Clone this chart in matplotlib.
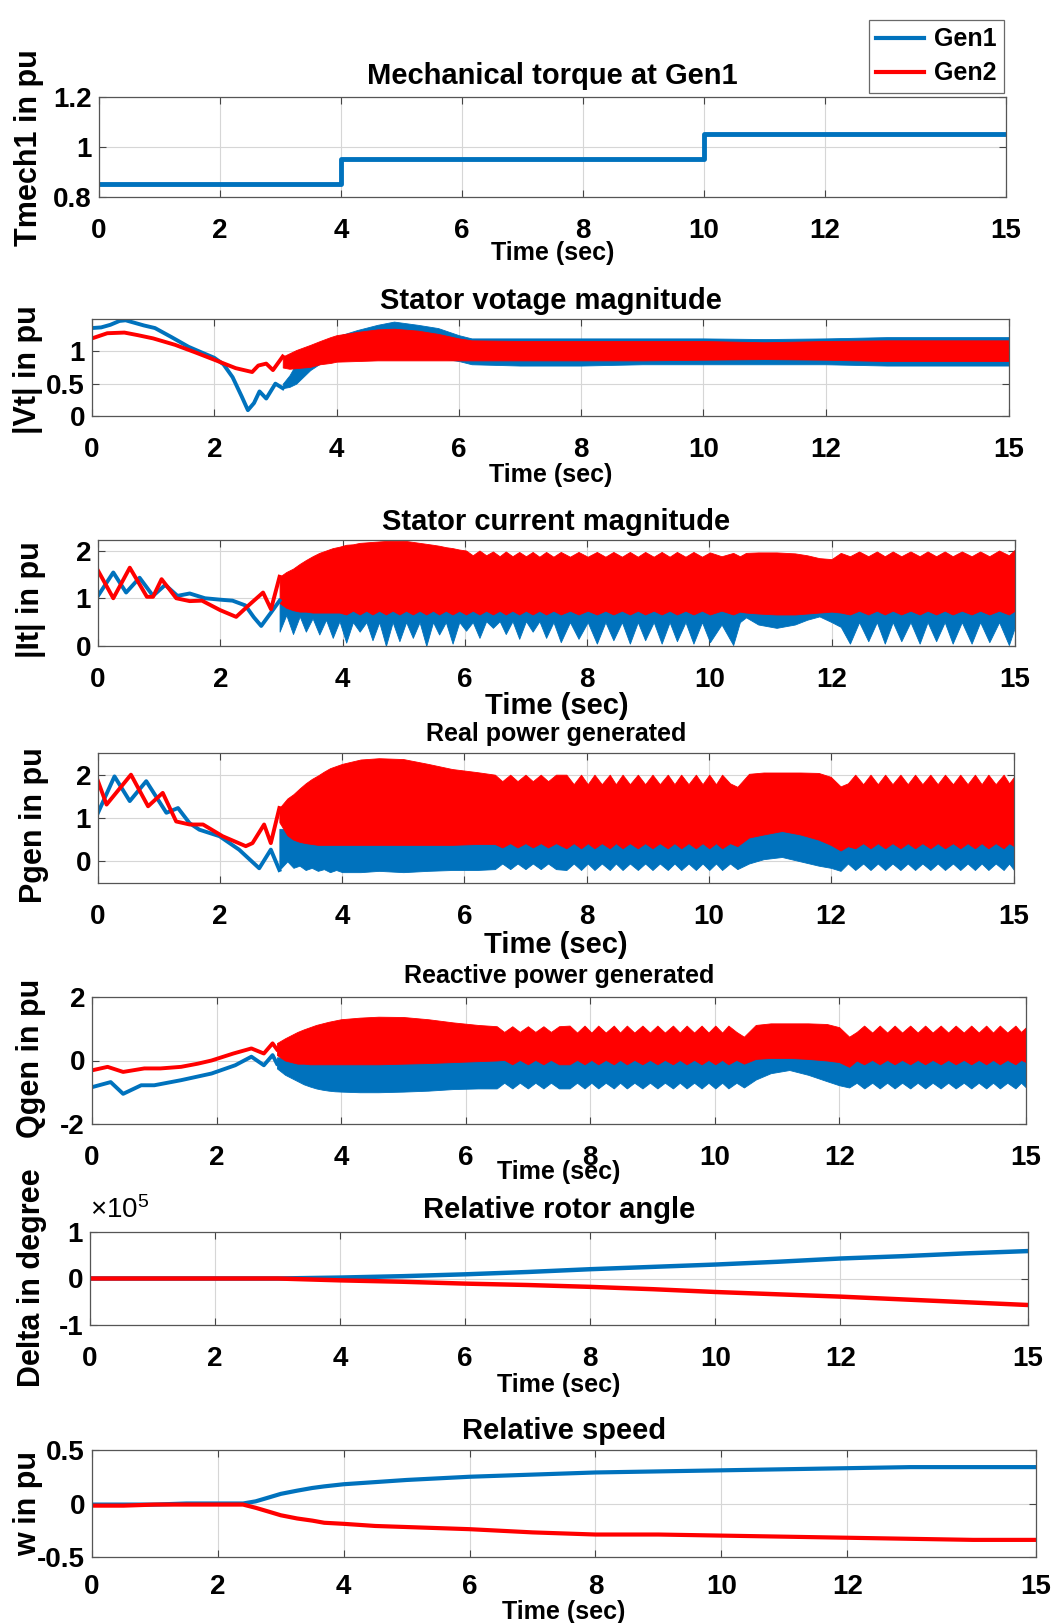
import numpy as np
import matplotlib
matplotlib.use('Agg')
import matplotlib.pyplot as plt
from matplotlib.ticker import FuncFormatter

plt.rcParams['font.family'] = ['Liberation Sans', 'DejaVu Sans']
plt.rcParams['font.weight'] = 'bold'
plt.rcParams['axes.unicode_minus'] = False
plt.rcParams['mathtext.fontset'] = 'custom'
plt.rcParams['mathtext.rm'] = 'Liberation Sans'
plt.rcParams['mathtext.default'] = 'regular'
plt.rcParams['lines.solid_joinstyle'] = 'round'

# ---------------- data ----------------
x_ticks = [0, 2, 4, 6, 8, 10, 12, 15]

# Panel 1: mechanical torque (step)
tm_t = [0, 4, 10, 15]
tm_g1 = [0.85, 0.95, 1.05, 1.05]

# Panel 2: |Vt|
vt_t_g1 = [0, 0.15, 0.3, 0.45, 0.55, 0.7, 0.85, 1.03, 1.3, 1.58, 1.8, 2.0, 2.15, 2.3, 2.45, 2.55,
           2.65, 2.74, 2.85, 3.0, 3.12]
vt_g1 = [1.36, 1.37, 1.41, 1.47, 1.48, 1.44, 1.40, 1.36, 1.22, 1.07, 0.98, 0.9, 0.8, 0.6, 0.3, 0.09,
         0.2, 0.38, 0.27, 0.5, 0.43]
vt_t_g2 = [0, 0.25, 0.53, 0.75, 1.0, 1.36, 1.7, 2.0, 2.35, 2.62, 2.72, 2.85, 2.96, 3.12]
vt_g2 = [1.2, 1.28, 1.29, 1.25, 1.2, 1.1, 0.98, 0.87, 0.74, 0.68, 0.78, 0.81, 0.71, 0.92]
vt_t_band = [3.12, 3.23, 3.34, 3.57, 3.73, 3.9, 4.0, 4.34, 4.67, 4.94, 5.33, 5.66,
             6.0, 6.21, 7, 8, 9, 10, 11, 12, 13, 14, 15]
vt_g1_up = [0.5, 0.63, 0.81, 0.97, 1.07, 1.17, 1.23, 1.33, 1.41, 1.46, 1.41, 1.36,
            1.25, 1.2, 1.2, 1.2, 1.2, 1.2, 1.19, 1.2, 1.22, 1.22, 1.22]
vt_g1_lo = [0.43, 0.45, 0.5, 0.71, 0.81, 0.89, 0.92, 0.95, 0.97, 0.97, 0.93, 0.9,
            0.85, 0.8, 0.78, 0.78, 0.8, 0.8, 0.8, 0.8, 0.78, 0.78, 0.78]
vt_g2_up = [0.92, 0.97, 1.02, 1.1, 1.16, 1.22, 1.25, 1.3, 1.34, 1.35, 1.32, 1.27,
            1.2, 1.17, 1.16, 1.16, 1.16, 1.16, 1.14, 1.16, 1.17, 1.17, 1.17]
vt_g2_lo = [0.75, 0.73, 0.74, 0.76, 0.8, 0.82, 0.84, 0.85, 0.86, 0.86, 0.86, 0.86,
            0.86, 0.86, 0.86, 0.86, 0.86, 0.87, 0.88, 0.87, 0.85, 0.85, 0.85]

# Panel 3: |It|
it_t_g1 = [0, 0.25, 0.46, 0.68, 0.9, 1.1, 1.3, 1.5, 1.75, 2.0, 2.2, 2.41, 2.55, 2.67, 2.83, 2.97]
it_g1 = [1.05, 1.54, 1.12, 1.43, 1.05, 1.28, 1.05, 1.1, 1.0, 0.97, 0.95, 0.85, 0.6, 0.42, 0.7, 0.95]
it_t_g2 = [0, 0.25, 0.52, 0.8, 0.9, 1.04, 1.28, 1.5, 1.7, 2.0, 2.26, 2.48, 2.7, 2.83, 2.97]
it_g2 = [1.58, 1.0, 1.64, 1.03, 1.03, 1.4, 1.0, 0.94, 0.95, 0.75, 0.61, 0.87, 1.12, 0.77, 1.45]
it_t_band = [2.97, 3.08, 3.19, 3.30, 3.40, 3.51, 3.62, 3.73, 3.84, 3.95,
             4.06, 4.17, 4.28, 4.39, 4.49, 4.60, 4.71, 4.82, 4.93, 5.04,
             5.15, 5.26, 5.37, 5.48, 5.58, 5.69, 5.80, 5.91, 6.02, 6.13,
             6.24, 6.35, 6.46, 6.57, 6.67, 6.78, 6.89, 7.00, 7.11, 7.22,
             7.33, 7.45, 7.57, 7.72, 7.86, 8.01, 8.16, 8.30, 8.43, 8.57,
             8.70, 8.83, 8.95, 9.09, 9.22, 9.35, 9.47, 9.61, 9.74, 9.88,
             10.01, 10.20, 10.39, 10.50, 10.60, 10.80, 11.10, 11.40, 11.60, 11.80,
             12.00, 12.15, 12.30, 12.45, 12.60, 12.74, 12.87, 13.00, 13.14, 13.29,
             13.44, 13.57, 13.71, 13.85, 13.98, 14.13, 14.29, 14.43, 14.58, 14.74,
             14.90, 15.00]
it_g1_lo = [0.30, 0.65, 0.25, 0.62, 0.30, 0.58, 0.24, 0.55, 0.17, 0.52,
            0.07, 0.50, 0.30, 0.50, 0.12, 0.50, 0.00, 0.50, 0.10, 0.50,
            0.17, 0.50, 0.00, 0.50, 0.24, 0.50, 0.05, 0.50, 0.32, 0.50,
            0.17, 0.52, 0.38, 0.52, 0.25, 0.52, 0.15, 0.52, 0.30, 0.52,
            0.17, 0.50, 0.08, 0.50, 0.15, 0.50, 0.05, 0.50, 0.12, 0.50,
            0.05, 0.50, 0.12, 0.50, 0.05, 0.50, 0.10, 0.50, 0.05, 0.50,
            0.08, 0.45, 0.02, 0.50, 0.60, 0.45, 0.38, 0.45, 0.55, 0.62,
            0.50, 0.40, 0.05, 0.50, 0.10, 0.50, 0.05, 0.50, 0.10, 0.50,
            0.05, 0.50, 0.10, 0.50, 0.05, 0.50, 0.05, 0.50, 0.08, 0.50,
            0.02, 0.40]
it_g1_top = 1.0
it_g2_up = [1.45, 1.55, 1.62, 1.72, 1.80, 1.88, 1.95, 2.00, 2.05, 2.08,
            2.12, 2.13, 2.16, 2.17, 2.18, 2.19, 2.20, 2.20, 2.20, 2.20,
            2.18, 2.16, 2.14, 2.12, 2.10, 2.07, 2.05, 2.02, 2.00, 1.90,
            2.00, 1.90, 1.98, 1.88, 1.98, 1.88, 1.97, 1.88, 1.97, 1.87,
            1.97, 1.87, 1.97, 1.87, 1.97, 1.87, 1.97, 1.87, 1.97, 1.87,
            1.97, 1.87, 1.97, 1.87, 1.97, 1.87, 1.97, 1.87, 1.97, 1.87,
            1.96, 1.88, 1.95, 1.88, 1.95, 1.96, 1.96, 1.94, 1.90, 1.84,
            1.82, 1.95, 1.88, 1.98, 1.88, 1.98, 1.88, 1.98, 1.88, 1.98,
            1.88, 1.98, 1.88, 1.98, 1.88, 1.98, 1.88, 1.98, 1.88, 2.00,
            1.90, 2.02]
it_g2_lo = [0.90, 0.80, 0.75, 0.72, 0.72, 0.70, 0.70, 0.70, 0.70, 0.70,
            0.66, 0.74, 0.66, 0.74, 0.66, 0.74, 0.66, 0.74, 0.66, 0.74,
            0.66, 0.74, 0.66, 0.74, 0.66, 0.74, 0.66, 0.74, 0.66, 0.74,
            0.66, 0.74, 0.66, 0.74, 0.66, 0.74, 0.66, 0.74, 0.66, 0.74,
            0.66, 0.74, 0.66, 0.74, 0.66, 0.74, 0.66, 0.74, 0.66, 0.74,
            0.66, 0.74, 0.66, 0.74, 0.66, 0.74, 0.66, 0.74, 0.66, 0.74,
            0.66, 0.74, 0.66, 0.72, 0.70, 0.68, 0.66, 0.66, 0.68, 0.70,
            0.72, 0.70, 0.66, 0.74, 0.66, 0.74, 0.66, 0.74, 0.66, 0.74,
            0.66, 0.74, 0.66, 0.74, 0.66, 0.74, 0.66, 0.74, 0.66, 0.74,
            0.66, 0.74]

# Panel 4: Pgen
pg_t_g1 = [0, 0.27, 0.52, 0.79, 1.12, 1.31, 1.5, 1.66, 1.99, 2.31, 2.64, 2.83, 2.97]
pg_g1 = [1.12, 1.96, 1.39, 1.85, 1.12, 1.23, 0.88, 0.73, 0.58, 0.27, -0.16, 0.27, -0.2]
pg_t_g2 = [0, 0.14, 0.54, 0.82, 1.06, 1.28, 1.5, 1.72, 2.04, 2.42, 2.53, 2.72, 2.83, 2.97]
pg_g2 = [1.85, 1.31, 2.0, 1.27, 1.58, 0.92, 0.85, 0.85, 0.58, 0.35, 0.42, 0.85, 0.42, 1.23]
pq_t_band = [2.97, 3.1, 3.2, 3.3, 3.4, 3.5, 3.6, 3.7, 3.8, 3.9,
             4.0, 4.3, 4.6, 5.0, 5.4, 5.8, 6.2, 6.5, 6.62, 6.75,
             6.87, 7.0, 7.12, 7.25, 7.37, 7.5, 7.67, 7.79, 7.91, 8.02,
             8.13, 8.25, 8.38, 8.48, 8.59, 8.71, 8.84, 8.96, 9.08, 9.2,
             9.33, 9.44, 9.55, 9.67, 9.79, 9.9, 10.01, 10.12, 10.22, 10.35,
             10.47, 10.66, 10.9, 11.2, 11.5, 11.8, 12.0, 12.16, 12.28, 12.4,
             12.53, 12.65, 12.77, 12.89, 13.01, 13.14, 13.26, 13.38, 13.5, 13.63,
             13.75, 13.87, 14.0, 14.12, 14.24, 14.36, 14.47, 14.58, 14.7, 14.83,
             14.92, 15.0]
pg_g1_lo = [-0.20, 0.00, -0.15, -0.10, -0.20, -0.15, -0.22, -0.18, -0.25, -0.20,
            -0.25, -0.25, -0.22, -0.25, -0.22, -0.20, -0.20, -0.18, -0.05, -0.18,
            -0.05, -0.18, -0.05, -0.18, -0.05, -0.18, -0.20, -0.05, -0.20, -0.05,
            -0.20, -0.05, -0.20, -0.05, -0.20, -0.05, -0.20, -0.05, -0.20, -0.05,
            -0.20, -0.05, -0.20, -0.05, -0.20, -0.05, -0.20, -0.05, -0.20, -0.05,
            -0.18, -0.05, 0.05, 0.10, 0.00, -0.10, -0.15, -0.22, -0.05, -0.20,
            -0.05, -0.20, -0.05, -0.20, -0.05, -0.20, -0.05, -0.20, -0.05, -0.20,
            -0.05, -0.20, -0.05, -0.20, -0.05, -0.20, -0.05, -0.20, -0.05, -0.20,
            -0.05, -0.20]
pg_g1_top = 0.75
pg_g2_up = [1.23, 1.45, 1.55, 1.68, 1.80, 1.90, 1.98, 2.07, 2.15, 2.20,
            2.25, 2.35, 2.38, 2.36, 2.25, 2.13, 2.06, 2.00, 1.85, 2.00,
            1.85, 2.00, 1.85, 2.00, 1.85, 2.00, 2.00, 1.78, 2.00, 1.78,
            2.00, 1.78, 2.00, 1.78, 2.00, 1.78, 2.00, 1.78, 2.00, 1.78,
            2.00, 1.78, 2.00, 1.78, 2.00, 1.78, 2.00, 1.78, 2.00, 1.80,
            1.72, 2.02, 2.05, 2.05, 2.05, 2.04, 1.95, 1.73, 1.80, 2.00,
            1.78, 2.00, 1.78, 2.00, 1.78, 2.00, 1.78, 2.00, 1.78, 2.00,
            1.78, 2.00, 1.78, 2.00, 1.78, 2.00, 1.78, 2.00, 1.78, 2.00,
            1.80, 1.95]
pg_g2_lo = [0.90, 0.60, 0.50, 0.45, 0.42, 0.40, 0.38, 0.38, 0.38, 0.38,
            0.38, 0.38, 0.38, 0.38, 0.38, 0.38, 0.40, 0.40, 0.32, 0.42,
            0.32, 0.42, 0.32, 0.42, 0.32, 0.42, 0.30, 0.42, 0.30, 0.42,
            0.30, 0.42, 0.30, 0.42, 0.30, 0.42, 0.30, 0.42, 0.30, 0.42,
            0.30, 0.42, 0.30, 0.42, 0.30, 0.42, 0.30, 0.42, 0.30, 0.42,
            0.35, 0.55, 0.62, 0.70, 0.62, 0.50, 0.38, 0.25, 0.35, 0.30,
            0.42, 0.30, 0.42, 0.30, 0.42, 0.30, 0.42, 0.30, 0.42, 0.30,
            0.42, 0.30, 0.42, 0.30, 0.42, 0.30, 0.42, 0.30, 0.42, 0.30,
            0.42, 0.35]

# Panel 5: Qgen
qg_t_g1 = [0, 0.3, 0.5, 0.79, 1.0, 1.43, 1.92, 2.3, 2.56, 2.76, 2.9, 2.97]
qg_g1 = [-0.84, -0.68, -1.05, -0.78, -0.78, -0.62, -0.41, -0.15, 0.12, -0.15, 0.17, -0.1]
qg_t_g2 = [0, 0.25, 0.5, 0.84, 1.1, 1.43, 1.7, 1.92, 2.27, 2.56, 2.76, 2.9, 2.97]
qg_g2 = [-0.31, -0.2, -0.36, -0.25, -0.25, -0.2, -0.1, 0.0, 0.22, 0.38, 0.22, 0.54, 0.35]
qg_g1_lo = [-0.25, -0.45, -0.55, -0.65, -0.75, -0.82, -0.88, -0.92, -0.95, -0.97,
            -0.98, -1.00, -1.00, -0.98, -0.95, -0.90, -0.88, -0.88, -0.70, -0.88,
            -0.70, -0.88, -0.70, -0.88, -0.70, -0.88, -0.88, -0.70, -0.88, -0.70,
            -0.88, -0.70, -0.88, -0.70, -0.88, -0.70, -0.88, -0.70, -0.88, -0.70,
            -0.88, -0.70, -0.88, -0.70, -0.88, -0.70, -0.88, -0.70, -0.88, -0.70,
            -0.85, -0.60, -0.40, -0.30, -0.45, -0.65, -0.78, -0.85, -0.70, -0.88,
            -0.70, -0.88, -0.70, -0.88, -0.70, -0.88, -0.70, -0.88, -0.70, -0.88,
            -0.70, -0.88, -0.70, -0.88, -0.70, -0.88, -0.70, -0.88, -0.70, -0.88,
            -0.70, -0.85]
qg_g1_top = 0.1
qg_g2_up = [0.55, 0.70, 0.80, 0.90, 0.98, 1.05, 1.12, 1.17, 1.22, 1.26,
            1.30, 1.35, 1.38, 1.37, 1.30, 1.20, 1.12, 1.08, 0.90, 1.08,
            0.90, 1.08, 0.90, 1.08, 0.90, 1.08, 1.10, 0.88, 1.10, 0.88,
            1.10, 0.88, 1.10, 0.88, 1.10, 0.88, 1.10, 0.88, 1.10, 0.88,
            1.10, 0.88, 1.10, 0.88, 1.10, 0.88, 1.10, 0.88, 1.10, 0.90,
            0.75, 1.12, 1.17, 1.17, 1.17, 1.15, 1.05, 0.75, 0.90, 1.10,
            0.88, 1.10, 0.88, 1.10, 0.88, 1.10, 0.88, 1.10, 0.88, 1.10,
            0.88, 1.10, 0.88, 1.10, 0.88, 1.10, 0.88, 1.10, 0.88, 1.10,
            0.90, 1.05]
qg_g2_lo = [0.17, 0.00, -0.05, -0.10, -0.10, -0.12, -0.12, -0.12, -0.12, -0.12,
            -0.12, -0.12, -0.12, -0.10, -0.08, -0.05, -0.02, 0.00, 0.02, -0.12,
            0.02, -0.12, 0.02, -0.12, 0.02, -0.12, -0.12, 0.02, -0.12, 0.02,
            -0.12, 0.02, -0.12, 0.02, -0.12, 0.02, -0.12, 0.02, -0.12, 0.02,
            -0.12, 0.02, -0.12, 0.02, -0.12, 0.02, -0.12, 0.02, -0.12, 0.02,
            -0.10, 0.05, 0.08, 0.08, 0.05, 0.00, -0.05, -0.20, 0.00, -0.12,
            0.02, -0.12, 0.02, -0.12, 0.02, -0.12, 0.02, -0.12, 0.02, -0.12,
            0.02, -0.12, 0.02, -0.12, 0.02, -0.12, 0.02, -0.12, 0.02, -0.12,
            0.02, -0.05]

# Panel 6: relative rotor angle (degrees)
da_t = [0, 3, 4, 5, 6, 7, 8, 9, 10, 11, 12, 13, 14, 15]
da_g1 = [0, 0, 2000, 5000, 9000, 14000, 20000, 25000, 30000, 36000, 43000, 48000, 54000, 59000]
da_g2 = [0, 0, -4000, -7000, -11000, -14000, -18000, -23000, -29000, -34000, -39000, -45000, -51000, -57000]

# Panel 7: relative speed
ws_t = [0, 0.5, 1, 1.5, 2.0, 2.4, 2.6, 2.83, 3.0, 3.26, 3.5, 3.69, 4.0, 4.5, 5, 6, 7, 8, 9, 10, 11, 12, 13, 14, 15]
ws_g1 = [-0.01, -0.01, -0.01, 0.0, 0.0, 0.0, 0.02, 0.06, 0.09, 0.12, 0.145, 0.16, 0.18, 0.2, 0.22,
         0.25, 0.27, 0.29, 0.3, 0.31, 0.32, 0.33, 0.34, 0.34, 0.34]
ws_g2 = [-0.02, -0.02, -0.01, -0.01, -0.01, -0.01, -0.04, -0.08, -0.11, -0.14, -0.16, -0.18, -0.19,
         -0.21, -0.22, -0.24, -0.27, -0.29, -0.29, -0.3, -0.31, -0.32, -0.33, -0.34, -0.34]

series_names = ['Gen1', 'Gen2']

# ---------------- figure ----------------
W, H = 1060, 1623
BLUE = '#0072BD'
RED = '#FF0000'
LW = 2.8
fig = plt.figure(figsize=(W / 100, H / 100), dpi=100)

gfmt = FuncFormatter(lambda v, p: '%g' % v)


def panel(box, title, title_y, title_fs, xlab_y, xlab_fs, ylabel, ylab_xy, ylim, yticks, xpad=15):
    l, t, r, b = box
    h = b - t
    ax = fig.add_axes([l / W, 1 - b / H, (r - l) / W, h / H])
    ax.set_xlim(0, 15)
    ax.set_ylim(*ylim)
    ax.set_xticks(x_ticks)
    ax.set_yticks(yticks)
    ax.xaxis.set_major_formatter(gfmt)
    ax.yaxis.set_major_formatter(gfmt)
    ax.tick_params(direction='in', top=True, right=True, length=5, width=0.8,
                   labelsize=20, color='#444444')
    ax.tick_params(axis='x', pad=xpad)
    ax.tick_params(axis='y', pad=5)
    for lab in ax.get_xticklabels() + ax.get_yticklabels():
        lab.set_fontweight('bold')
    for s in ax.spines.values():
        s.set_color('#555555')
        s.set_linewidth(0.9)
    ax.grid(True, color='#d6d6d6', lw=0.8)
    ax.set_axisbelow(True)
    ax.set_title(title, fontsize=title_fs, fontweight='bold', y=1 + (t - title_y) / h,
                 va='center', pad=0)
    ax.set_xlabel('Time (sec)', fontsize=xlab_fs, fontweight='bold', va='center')
    ax.xaxis.set_label_coords(0.5, -(xlab_y - b) / h)
    ax.set_ylabel(ylabel, fontsize=22, fontweight='bold', va='center', ha='center')
    ax.yaxis.set_label_coords(ylab_xy[0] / W, 1 - ylab_xy[1] / H, transform=fig.transFigure)
    return ax


# Panel 1
ax1 = panel((99, 97, 1006, 197), 'Mechanical torque at Gen1', 76, 21, 253, 18,
            'Tmech1 in pu', (29, 148), (0.8, 1.2), [0.8, 1, 1.2])
ax1.plot(tm_t, tm_g1, drawstyle='steps-post', color=BLUE, lw=3.5)

# Panel 2
ax2 = panel((92, 319, 1009, 416), 'Stator votage magnitude', 301, 21, 475, 18,
            '|Vt| in pu', (28, 370), (0, 1.5), [0, 0.5, 1])
ax2.fill_between(vt_t_band, vt_g1_lo, vt_g1_up, color=BLUE, lw=0.6)
ax2.plot(vt_t_g1, vt_g1, color=BLUE, lw=LW)
ax2.fill_between(vt_t_band, vt_g2_lo, vt_g2_up, color=RED, lw=0.6)
ax2.plot(vt_t_g2, vt_g2, color=RED, lw=LW)

# Panel 3
ax3 = panel((98, 540, 1015, 646), 'Stator current magnitude', 522, 21, 706, 21,
            '|It| in pu', (31, 600), (0, 2.22), [0, 1, 2])
ax3.fill_between(it_t_band, it_g1_lo, it_g1_top, color=BLUE, lw=0.6)
ax3.plot(it_t_g1, it_g1, color=BLUE, lw=LW)
ax3.fill_between(it_t_band, it_g2_lo, it_g2_up, color=RED, lw=0.6)
ax3.plot(it_t_g2, it_g2, color=RED, lw=LW)

# Panel 4
ax4 = panel((98, 753, 1014, 883), 'Real power generated', 734, 18, 945, 21,
            'Pgen in pu', (34, 825), (-0.5, 2.5), [0, 1, 2])
ax4.fill_between(pq_t_band, pg_g1_lo, pg_g1_top, color=BLUE, lw=0.6)
ax4.plot(pg_t_g1, pg_g1, color=BLUE, lw=LW)
ax4.fill_between(pq_t_band, pg_g2_lo, pg_g2_up, color=RED, lw=0.6)
ax4.plot(pg_t_g2, pg_g2, color=RED, lw=LW)

# Panel 5
ax5 = panel((92, 997, 1026, 1124), 'Reactive power generated', 976, 18, 1172, 18,
            'Qgen in pu', (31, 1058), (-2, 2), [-2, 0, 2])
ax5.fill_between(pq_t_band, qg_g1_lo, qg_g1_top, color=BLUE, lw=0.6)
ax5.plot(qg_t_g1, qg_g1, color=BLUE, lw=LW)
ax5.fill_between(pq_t_band, qg_g2_lo, qg_g2_up, color=RED, lw=0.6)
ax5.plot(qg_t_g2, qg_g2, color=RED, lw=LW)

# Panel 6
ax6 = panel((90, 1232, 1028, 1325), 'Relative rotor angle', 1210, 21, 1385, 18,
            'Delta in degree', (32, 1278), (-1e5, 1e5), [-1e5, 0, 1e5])
ax6.yaxis.set_major_formatter(FuncFormatter(lambda v, p: '%g' % (v / 1e5)))
ax6.plot(da_t, da_g1, color=BLUE, lw=3.2)
ax6.plot(da_t, da_g2, color=RED, lw=3.2)
ax6.text(0.0, 1 + (1232 - 1210) / 93, r'$\times10^{5}$', transform=ax6.transAxes,
         ha='left', va='center', fontsize=20, fontweight='normal')

# Panel 7
ax7 = panel((92, 1450, 1036, 1557), 'Relative speed', 1431, 21, 1612, 18,
            'w in pu', (28, 1503), (-0.5, 0.5), [-0.5, 0, 0.5], xpad=12)
l1, = ax7.plot(ws_t, ws_g1, color=BLUE, lw=3.0, label=series_names[0])
l2, = ax7.plot(ws_t, ws_g2, color=RED, lw=3.0, label=series_names[1])

leg = fig.legend([l1, l2], series_names, loc='upper right',
                 bbox_to_anchor=(1004 / W, 1 - 20 / H), fontsize=18,
                 frameon=True, fancybox=False, edgecolor='#444444',
                 handlelength=1.9, handletextpad=0.4, labelspacing=0.4,
                 borderpad=0.3, borderaxespad=0)
leg.get_frame().set_linewidth(0.9)
for txt in leg.get_texts():
    txt.set_fontweight('bold')

fig.savefig('out.png', dpi=100)
